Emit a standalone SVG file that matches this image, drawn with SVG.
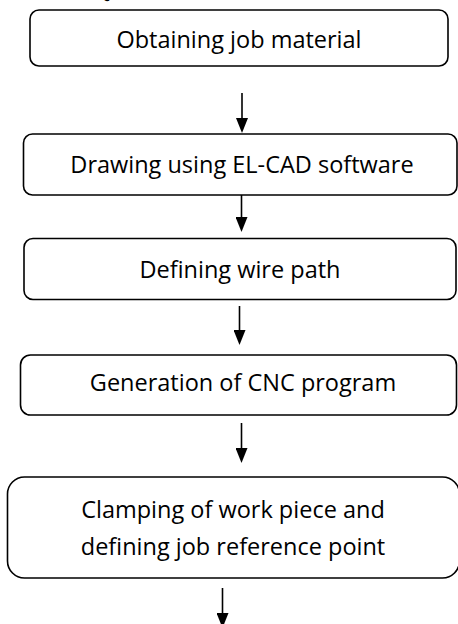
<svg xmlns="http://www.w3.org/2000/svg" width="458" height="624" viewBox="0 0 458 624">
<style>
.box{fill:#fff;stroke:#000;stroke-width:1.6}
.lbl{font-family:"Open Sans","Noto Sans",sans-serif;font-size:23.5px;fill:#000;text-anchor:middle}
.con{stroke:#000;stroke-width:1.6;fill:none}
</style>
<defs>
<marker id="ah" viewBox="0 0 15 12" refX="0" refY="6" markerWidth="15" markerHeight="12" markerUnits="userSpaceOnUse" orient="auto">
<path d="M0,0 L15,6 L0,12 Z" fill="#000"/>
</marker>
</defs>
<rect width="458" height="624" fill="#fff"/>
<text x="96" y="-2" font-family="Liberation Serif" font-weight="bold" font-size="18">Q</text>
<g id="n1"><rect class="box" x="30" y="10" width="418" height="56" rx="9"/><text class="lbl" x="239" y="48">Obtaining job material</text></g>
<g id="n2"><rect class="box" x="23.5" y="134" width="433.5" height="61" rx="9"/><text class="lbl" x="242" y="173">Drawing using EL-CAD software</text></g>
<g id="n3"><rect class="box" x="24" y="238.5" width="432" height="61" rx="9"/><text class="lbl" x="240" y="278">Defining wire path</text></g>
<g id="n4"><rect class="box" x="20.5" y="355" width="436" height="60" rx="10"/><text class="lbl" x="243" y="391">Generation of CNC program</text></g>
<g id="n5"><rect class="box" x="7.5" y="477" width="452" height="101" rx="17"/><text class="lbl" x="233" y="518">Clamping of work piece and</text><text class="lbl" x="233" y="555">defining job reference point</text></g>
<g id="connectors">
<line class="con" x1="242" y1="93" x2="242" y2="118" marker-end="url(#ah)"/>
<line class="con" x1="241.5" y1="195" x2="241.5" y2="217" marker-end="url(#ah)"/>
<line class="con" x1="239.5" y1="306" x2="239.5" y2="330" marker-end="url(#ah)"/>
<line class="con" x1="241.5" y1="423" x2="241.5" y2="448" marker-end="url(#ah)"/>
<line class="con" x1="222.5" y1="588" x2="222.5" y2="613" marker-end="url(#ah)"/>
</g>
</svg>
